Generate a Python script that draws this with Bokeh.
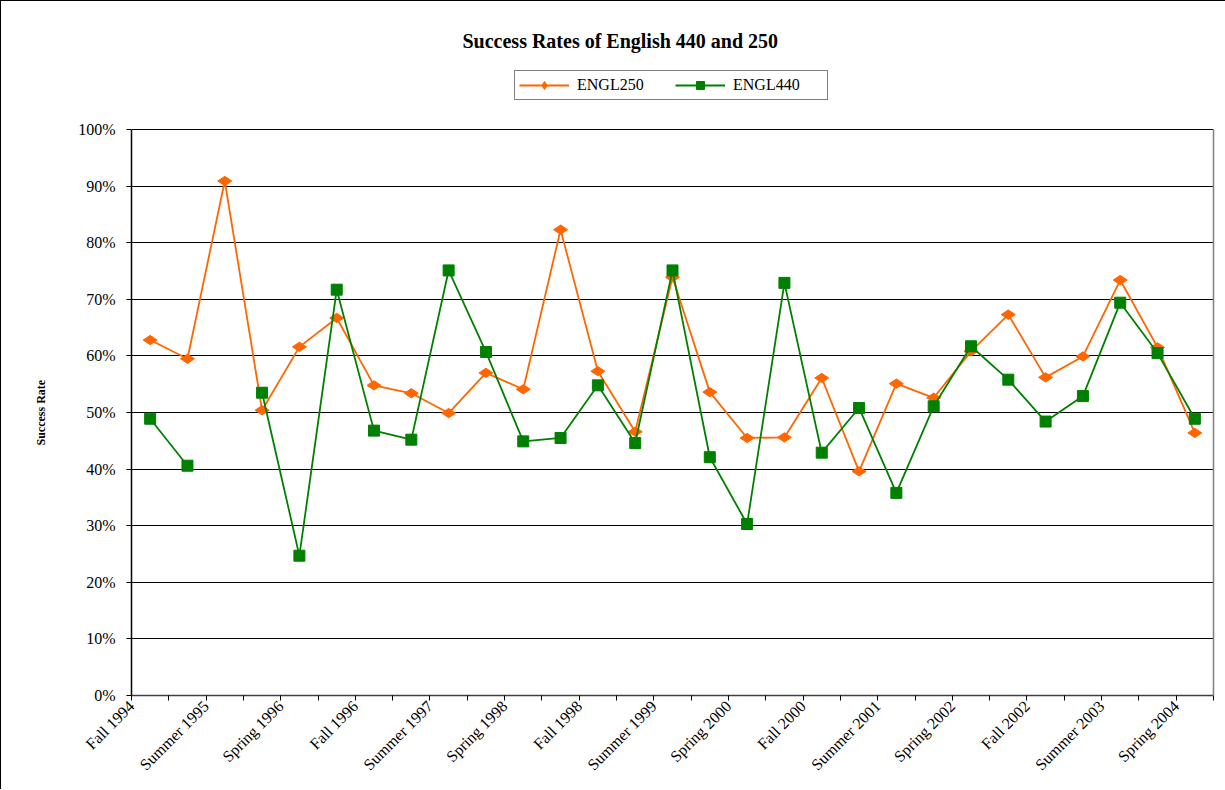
import math
from bokeh.plotting import figure
from bokeh.models import (FixedTicker, PrintfTickFormatter, Range1d, Label,
                          Legend, LegendItem, LinearAxis, Title)
from bokeh.embed import file_html
from bokeh.resources import INLINE

terms = ["Fall 1994", "Spring 1995", "Summer 1995", "Fall 1995", "Spring 1996",
         "Summer 1996", "Fall 1996", "Spring 1997", "Summer 1997", "Fall 1997",
         "Spring 1998", "Summer 1998", "Fall 1998", "Spring 1999", "Summer 1999",
         "Fall 1999", "Spring 2000", "Summer 2000", "Fall 2000", "Spring 2001",
         "Summer 2001", "Fall 2001", "Spring 2002", "Summer 2002", "Fall 2002",
         "Spring 2003", "Summer 2003", "Fall 2003", "Spring 2004"]

engl250 = [62.8, 59.5, 90.9, 50.4, 61.6, 66.7, 54.8, 53.4, 49.9, 57.0,
           54.1, 82.3, 57.3, 46.6, 73.9, 53.6, 45.5, 45.6, 56.1, 39.6,
           55.1, 52.6, 60.8, 67.3, 56.2, 59.9, 73.4, 61.5, 46.4]

engl440 = [48.9, 40.6, float("nan"), 53.5, 24.7, 71.7, 46.8, 45.2, 75.1, 60.7,
           44.9, 45.5, 54.8, 44.6, 75.1, 42.1, 30.3, 72.9, 42.9, 50.8,
           35.8, 51.1, 61.7, 55.8, 48.4, 52.9, 69.4, 60.5, 48.9]

y_ticks = list(range(0, 101, 10))
title_text = "Success Rates of English 440 and 250"
y_title = "Success Rate"

FONT = "Liberation Serif"
ORANGE = "#FF6600"
GREEN = "#008000"

# layout (pixels)
PLOT_H = 566           # height of the 0..100 % area
TOP_H = 117            # extra room above 100 % for title and legend
FRAME_H = PLOT_H + TOP_H
Y_MAX = 100.0 * FRAME_H / PLOT_H

xs = [i + 0.5 for i in range(len(terms))]

p = figure(frame_width=1082, frame_height=FRAME_H, output_backend="svg",
           toolbar_location=None,
           x_range=Range1d(0, len(terms)), y_range=Range1d(0, Y_MAX),
           min_border_left=130, min_border_right=12,
           min_border_top=11, min_border_bottom=94)
p.styles = {"border-left": "1px solid #000", "border-top": "1px solid #000"}
p.background_fill_color = "white"
p.border_fill_color = "white"
p.outline_line_color = None

# series
l1 = p.line(xs, engl250, line_color=ORANGE, line_width=1.8)
s1 = p.scatter(xs, engl250, marker="diamond", size=14, angle=math.pi / 2,
               fill_color=ORANGE, line_color=ORANGE)
l2 = p.line(xs, engl440, line_color=GREEN, line_width=1.8)
s2 = p.scatter(xs, engl440, marker="square", size=11,
               fill_color=GREEN, line_color=GREEN)

# axes
p.yaxis.bounds = (0, 100)
p.yaxis.ticker = FixedTicker(ticks=y_ticks)
p.yaxis.formatter = PrintfTickFormatter(format="%d%%")
p.yaxis.major_label_text_font = FONT
p.yaxis.major_label_text_font_size = "16px"
p.yaxis.major_label_text_color = "#000000"
p.yaxis.major_tick_out = 5
p.yaxis.major_tick_in = 0
p.yaxis.minor_tick_line_color = None
p.yaxis.major_label_standoff = 11
p.yaxis.axis_line_color = "#000000"
p.yaxis.axis_line_width = 1.5

# y-axis title, centred on the 0..100 % span
p.add_layout(Title(text=y_title, align="left", offset=250,
                   vertical_align="bottom", standoff=55,
                   text_font=FONT, text_font_style="bold",
                   text_font_size="12px", text_color="#000000"), "left")

right_axis = LinearAxis(bounds=(0, 100), ticker=FixedTicker(ticks=[]),
                        axis_line_color="#808080", axis_line_width=1.5,
                        major_tick_line_color=None, minor_tick_line_color=None,
                        major_label_text_color=None)
p.add_layout(right_axis, "right")

p.xaxis.ticker = FixedTicker(ticks=list(range(len(terms) + 1)))
p.xaxis.major_label_overrides = {
    i: (terms[i] if (i % 2 == 0 and i < len(terms)) else "")
    for i in range(len(terms) + 1)
}
p.xaxis.major_label_orientation = math.pi / 4
p.xaxis.major_label_text_font = FONT
p.xaxis.major_label_text_font_size = "16px"
p.xaxis.major_label_text_color = "#000000"
p.xaxis.major_tick_out = 5
p.xaxis.major_tick_in = 0
p.xaxis.minor_tick_line_color = None
p.xaxis.major_label_standoff = 3
p.xaxis.axis_line_color = "#404040"
p.xaxis.axis_line_width = 1.5

p.xgrid.visible = False
p.ygrid.ticker = FixedTicker(ticks=y_ticks)
p.ygrid.grid_line_color = "#000000"
p.ygrid.grid_line_width = 1

# title
p.add_layout(Label(x=13.1, y=(695 - 40) / 5.66, text=title_text,
                   text_align="center", text_baseline="middle",
                   text_font=FONT, text_font_style="bold",
                   text_font_size="20px", text_color="#000000"))

# legend
legend = Legend(items=[LegendItem(label="ENGL250", renderers=[l1, s1]),
                       LegendItem(label="ENGL440", renderers=[l2, s2])],
                orientation="horizontal", location=(383, 595),
                border_line_color="#000000", border_line_width=1,
                background_fill_color="white", background_fill_alpha=1,
                glyph_width=50, glyph_height=20, label_width=90,
                label_height=20, label_standoff=8, spacing=8, padding=4,
                margin=0, label_text_font=FONT, label_text_font_size="16px",
                label_text_color="#000000")
p.add_layout(legend)

open("out.html", "w").write(file_html(p, INLINE))
